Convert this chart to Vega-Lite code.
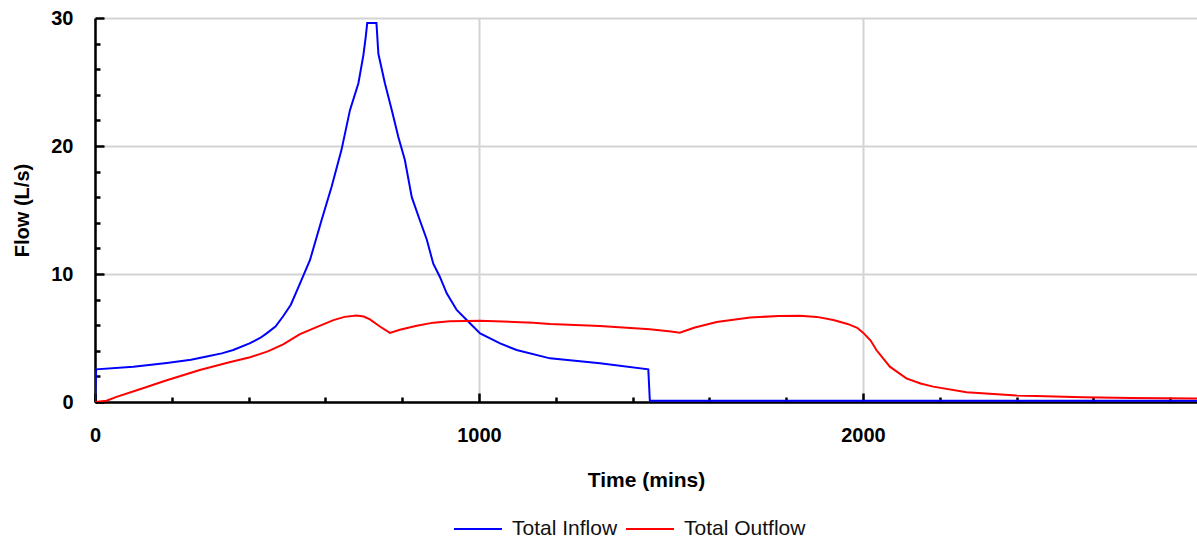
{
  "$schema": "https://vega.github.io/schema/vega-lite/v6.json",
  "width": 1102,
  "height": 384,
  "autosize": {"type": "none"},
  "padding": {"left": 95, "top": 18, "right": 0, "bottom": 143},
  "background": "white",
  "config": {
    "view": {"stroke": null},
    "font": "Liberation Sans"
  },
  "datasets": {
    "flows": [
      {"t": 0, "flow": 0, "series": "Total Inflow"},
      {"t": 3, "flow": 2.55, "series": "Total Inflow"},
      {"t": 100, "flow": 2.75, "series": "Total Inflow"},
      {"t": 187, "flow": 3.05, "series": "Total Inflow"},
      {"t": 250, "flow": 3.3, "series": "Total Inflow"},
      {"t": 291, "flow": 3.55, "series": "Total Inflow"},
      {"t": 330, "flow": 3.8, "series": "Total Inflow"},
      {"t": 360, "flow": 4.06, "series": "Total Inflow"},
      {"t": 404, "flow": 4.6, "series": "Total Inflow"},
      {"t": 430, "flow": 5.0, "series": "Total Inflow"},
      {"t": 447, "flow": 5.36, "series": "Total Inflow"},
      {"t": 470, "flow": 5.9, "series": "Total Inflow"},
      {"t": 490, "flow": 6.7, "series": "Total Inflow"},
      {"t": 510, "flow": 7.6, "series": "Total Inflow"},
      {"t": 534, "flow": 9.27, "series": "Total Inflow"},
      {"t": 560, "flow": 11.1, "series": "Total Inflow"},
      {"t": 590, "flow": 14.2, "series": "Total Inflow"},
      {"t": 616, "flow": 16.8, "series": "Total Inflow"},
      {"t": 642, "flow": 19.7, "series": "Total Inflow"},
      {"t": 664, "flow": 22.8, "series": "Total Inflow"},
      {"t": 686, "flow": 24.9, "series": "Total Inflow"},
      {"t": 699, "flow": 27.1, "series": "Total Inflow"},
      {"t": 705, "flow": 28.5, "series": "Total Inflow"},
      {"t": 709, "flow": 29.6, "series": "Total Inflow"},
      {"t": 733, "flow": 29.6, "series": "Total Inflow"},
      {"t": 738, "flow": 27.2, "series": "Total Inflow"},
      {"t": 755, "flow": 24.9, "series": "Total Inflow"},
      {"t": 773, "flow": 22.8, "series": "Total Inflow"},
      {"t": 790, "flow": 20.7, "series": "Total Inflow"},
      {"t": 807, "flow": 18.9, "series": "Total Inflow"},
      {"t": 825, "flow": 16.0, "series": "Total Inflow"},
      {"t": 846, "flow": 14.2, "series": "Total Inflow"},
      {"t": 864, "flow": 12.7, "series": "Total Inflow"},
      {"t": 881, "flow": 10.8, "series": "Total Inflow"},
      {"t": 898, "flow": 9.79, "series": "Total Inflow"},
      {"t": 916, "flow": 8.49, "series": "Total Inflow"},
      {"t": 942, "flow": 7.19, "series": "Total Inflow"},
      {"t": 968, "flow": 6.41, "series": "Total Inflow"},
      {"t": 1003, "flow": 5.36, "series": "Total Inflow"},
      {"t": 1055, "flow": 4.58, "series": "Total Inflow"},
      {"t": 1098, "flow": 4.06, "series": "Total Inflow"},
      {"t": 1185, "flow": 3.41, "series": "Total Inflow"},
      {"t": 1315, "flow": 3.02, "series": "Total Inflow"},
      {"t": 1441, "flow": 2.55, "series": "Total Inflow"},
      {"t": 1445, "flow": 0.1, "series": "Total Inflow"},
      {"t": 2870, "flow": 0.1, "series": "Total Inflow"},
      {"t": 0, "flow": 0, "series": "Total Outflow"},
      {"t": 30, "flow": 0.1, "series": "Total Outflow"},
      {"t": 56, "flow": 0.4, "series": "Total Outflow"},
      {"t": 117, "flow": 1.0, "series": "Total Outflow"},
      {"t": 187, "flow": 1.7, "series": "Total Outflow"},
      {"t": 273, "flow": 2.5, "series": "Total Outflow"},
      {"t": 350, "flow": 3.1, "series": "Total Outflow"},
      {"t": 404, "flow": 3.5, "series": "Total Outflow"},
      {"t": 450, "flow": 3.95, "series": "Total Outflow"},
      {"t": 490, "flow": 4.5, "series": "Total Outflow"},
      {"t": 520, "flow": 5.05, "series": "Total Outflow"},
      {"t": 534, "flow": 5.3, "series": "Total Outflow"},
      {"t": 577, "flow": 5.85, "series": "Total Outflow"},
      {"t": 621, "flow": 6.4, "series": "Total Outflow"},
      {"t": 650, "flow": 6.65, "series": "Total Outflow"},
      {"t": 681, "flow": 6.75, "series": "Total Outflow"},
      {"t": 700, "flow": 6.68, "series": "Total Outflow"},
      {"t": 716, "flow": 6.45, "series": "Total Outflow"},
      {"t": 742, "flow": 5.9, "series": "Total Outflow"},
      {"t": 768, "flow": 5.4, "series": "Total Outflow"},
      {"t": 794, "flow": 5.65, "series": "Total Outflow"},
      {"t": 838, "flow": 5.95, "series": "Total Outflow"},
      {"t": 881, "flow": 6.2, "series": "Total Outflow"},
      {"t": 924, "flow": 6.3, "series": "Total Outflow"},
      {"t": 1003, "flow": 6.35, "series": "Total Outflow"},
      {"t": 1141, "flow": 6.2, "series": "Total Outflow"},
      {"t": 1185, "flow": 6.1, "series": "Total Outflow"},
      {"t": 1315, "flow": 5.94, "series": "Total Outflow"},
      {"t": 1445, "flow": 5.68, "series": "Total Outflow"},
      {"t": 1500, "flow": 5.5, "series": "Total Outflow"},
      {"t": 1523, "flow": 5.42, "series": "Total Outflow"},
      {"t": 1560, "flow": 5.8, "series": "Total Outflow"},
      {"t": 1619, "flow": 6.25, "series": "Total Outflow"},
      {"t": 1706, "flow": 6.6, "series": "Total Outflow"},
      {"t": 1780, "flow": 6.72, "series": "Total Outflow"},
      {"t": 1836, "flow": 6.74, "series": "Total Outflow"},
      {"t": 1880, "flow": 6.65, "series": "Total Outflow"},
      {"t": 1923, "flow": 6.41, "series": "Total Outflow"},
      {"t": 1960, "flow": 6.1, "series": "Total Outflow"},
      {"t": 1985, "flow": 5.8, "series": "Total Outflow"},
      {"t": 2001, "flow": 5.4, "series": "Total Outflow"},
      {"t": 2020, "flow": 4.8, "series": "Total Outflow"},
      {"t": 2035, "flow": 4.06, "series": "Total Outflow"},
      {"t": 2070, "flow": 2.76, "series": "Total Outflow"},
      {"t": 2113, "flow": 1.85, "series": "Total Outflow"},
      {"t": 2150, "flow": 1.45, "series": "Total Outflow"},
      {"t": 2183, "flow": 1.2, "series": "Total Outflow"},
      {"t": 2270, "flow": 0.76, "series": "Total Outflow"},
      {"t": 2400, "flow": 0.5, "series": "Total Outflow"},
      {"t": 2574, "flow": 0.37, "series": "Total Outflow"},
      {"t": 2700, "flow": 0.32, "series": "Total Outflow"},
      {"t": 2870, "flow": 0.28, "series": "Total Outflow"}
    ]
  },
  "data": {"name": "flows"},
  "layer": [
    {
      "mark": {"type": "line", "opacity": 0},
      "encoding": {
        "x": {
          "field": "t", "type": "quantitative",
          "scale": {"domain": [0, 2870], "nice": false, "zero": false},
          "axis": {
            "orient": "bottom",
            "values": [200, 400, 600, 800, 1200, 1400, 1600, 1800, 2200, 2400, 2600, 2800],
            "labels": false, "domain": false, "grid": false, "title": null,
            "tickSize": -5, "tickWidth": 2.5, "tickColor": "black"
          }
        },
        "y": {
          "field": "flow", "type": "quantitative",
          "scale": {"domain": [0, 30], "nice": false},
          "axis": {
            "orient": "left",
            "values": [2, 4, 6, 8, 12, 14, 16, 18, 22, 24, 26, 28],
            "labels": false, "domain": false, "grid": false, "title": null,
            "tickSize": -5, "tickWidth": 2.5, "tickColor": "black"
          }
        },
        "detail": {"field": "series"}
      }
    },
    {
      "mark": {"type": "line", "strokeWidth": 2, "clip": true},
      "encoding": {
        "x": {
          "field": "t", "type": "quantitative",
          "scale": {"domain": [0, 2870], "nice": false, "zero": false},
          "axis": {
            "orient": "bottom",
            "values": [0, 1000, 2000],
            "format": "d",
            "title": "Time (mins)",
            "titleFont": "Liberation Sans", "titleFontSize": 21, "titleFontWeight": "bold", "titleColor": "black",
            "titleBaseline": "alphabetic", "titleY": 84,
            "labelFont": "Liberation Sans", "labelFontSize": 20, "labelFontWeight": "bold", "labelColor": "black",
            "labelBaseline": "middle", "labelPadding": 42, "labelFlush": false,
            "grid": true, "gridColor": "#d3d3d3", "gridWidth": 2,
            "domainColor": "black", "domainWidth": 2.5,
            "tickSize": -9, "tickWidth": 2.5, "tickColor": "black"
          }
        },
        "y": {
          "field": "flow", "type": "quantitative",
          "scale": {"domain": [0, 30], "nice": false},
          "axis": {
            "orient": "left",
            "values": [0, 10, 20, 30],
            "title": "Flow (L/s)",
            "titleFont": "Liberation Sans", "titleFontSize": 20, "titleFontWeight": "bold", "titleColor": "black",
            "titleX": -67, "titleBaseline": "alphabetic",
            "labelFont": "Liberation Sans", "labelFontSize": 20, "labelFontWeight": "bold", "labelColor": "black",
            "labelPadding": 31, "labelFlush": false,
            "grid": true, "gridColor": "#d3d3d3", "gridWidth": 2,
            "domainColor": "black", "domainWidth": 2.5,
            "tickSize": -9, "tickWidth": 2.5, "tickColor": "black"
          }
        },
        "color": {
          "field": "series", "type": "nominal",
          "scale": {"domain": ["Total Inflow", "Total Outflow"], "range": ["#0000ff", "#ff0000"]},
          "legend": {
            "title": null,
            "orient": "none",
            "legendX": 358,
            "legendY": 486,
            "direction": "horizontal",
            "symbolType": "stroke",
            "symbolSize": 2304,
            "symbolStrokeWidth": 2,
            "labelFont": "Liberation Sans",
            "labelFontSize": 21,
            "labelColor": "#111111",
            "labelOffset": 9,
            "columnPadding": 4
          }
        }
      }
    }
  ],
  "resolve": {"axis": {"x": "independent", "y": "independent"}}
}
